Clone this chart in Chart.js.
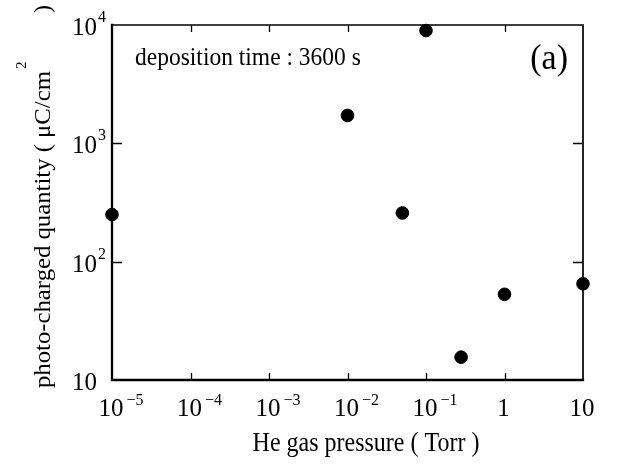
<!DOCTYPE html>
<html>
<head>
<meta charset="utf-8">
<script src="https://cdn.jsdelivr.net/npm/chart.js@4/dist/chart.umd.min.js"></script>
<style>
  html, body { margin: 0; padding: 0; background: #fff; }
  #wrap { width: 618px; height: 466px; }
</style>
</head>
<body>
<div id="wrap"><canvas id="c" width="618" height="466"></canvas></div>
<script>
// He gas pressure (Torr) and photo-charged quantity (µC/cm²)
const pressureTorr = [1e-5, 0.01, 0.05, 0.1, 0.28, 1, 10];
const chargeUCcm2 = [250, 1720, 258, 8980, 15.6, 53, 65];

// decade ticks: [mantissa, exponent]
const xTickValues = [1e-5, 1e-4, 1e-3, 1e-2, 1e-1, 1, 10];
const xTickLabels = [['10', '−5'], ['10', '−4'], ['10', '−3'], ['10', '−2'], ['10', '−1'], ['1', ''], ['10', '']];
const yTickValues = [10, 100, 1000, 10000];
const yTickLabels = [['10', ''], ['10', '2'], ['10', '3'], ['10', '4']];

const xTitle = 'He gas pressure ( Torr )';
const yTitleParts = ['photo-charged quantity ( μC/cm', '2', ')'];
const noteText = 'deposition time : 3600 s';
const panelText = '(a)';

const SERIF = '"Liberation Serif", "DejaVu Serif", serif';

// text drawn with an optional vertical stretch
function stretchedText(ctx, text, x, y, size, align, sy) {
  ctx.save();
  ctx.font = size + 'px ' + SERIF;
  ctx.textAlign = align;
  ctx.translate(x, y);
  ctx.scale(1, sy);
  ctx.fillText(text, 0, 0);
  ctx.restore();
}

const framePlugin = {
  id: 'framePlugin',
  beforeDatasetsDraw(chart) {
    const { ctx, chartArea: a } = chart;
    const xs = chart.scales.x, ys = chart.scales.y;
    ctx.save();
    ctx.strokeStyle = '#000';
    ctx.lineCap = 'square';
    ctx.lineWidth = 2.3;
    ctx.beginPath();
    ctx.moveTo(a.left, a.top); ctx.lineTo(a.left, a.bottom); ctx.lineTo(a.right, a.bottom);
    ctx.stroke();
    ctx.lineWidth = 1.7;
    ctx.beginPath();
    ctx.moveTo(a.left, a.top); ctx.lineTo(a.right, a.top); ctx.lineTo(a.right, a.bottom);
    ctx.stroke();
    ctx.lineWidth = 1.3;
    ctx.lineCap = 'butt';
    // inward ticks on the inner decades
    xTickValues.slice(1, -1).forEach(v => {
      const px = Math.round(xs.getPixelForValue(v)) + 0.5;
      ctx.beginPath();
      ctx.moveTo(px, a.bottom); ctx.lineTo(px, a.bottom - 7);
      ctx.moveTo(px, a.top); ctx.lineTo(px, a.top + 7);
      ctx.stroke();
    });
    yTickValues.slice(1, -1).forEach(v => {
      const py = Math.round(ys.getPixelForValue(v)) + 0.5;
      ctx.beginPath();
      ctx.moveTo(a.left, py); ctx.lineTo(a.left + 10, py);
      ctx.moveTo(a.right, py); ctx.lineTo(a.right - 10, py);
      ctx.stroke();
    });
    ctx.restore();
  },
  afterDraw(chart) {
    const { ctx } = chart;
    const xs = chart.scales.x, ys = chart.scales.y;
    ctx.save();
    ctx.fillStyle = '#000';
    ctx.textBaseline = 'alphabetic';

    // x tick labels
    xTickValues.forEach((v, i) => {
      const [base, exp] = xTickLabels[i];
      const px = xs.getPixelForValue(v);
      ctx.font = '25px ' + SERIF;
      const bw = ctx.measureText(base).width;
      const left = px - bw / 2 - 1;
      stretchedText(ctx, base, left, 416, 25, 'left', 1.03);
      if (exp) stretchedText(ctx, exp, left + bw + 3, 405, 16, 'left', 1.03);
    });

    // y tick labels
    yTickValues.forEach((v, i) => {
      const [base, exp] = yTickLabels[i];
      const py = ys.getPixelForValue(v);
      stretchedText(ctx, base, 97, py + 10, 25, 'right', 1.03);
      if (exp) stretchedText(ctx, exp, 98, py - 3, 16, 'left', 1.03);
    });

    // x axis title
    stretchedText(ctx, xTitle, 366, 451, 24, 'center', 1.1);

    // y axis title, rotated and read bottom to top
    ctx.save();
    ctx.translate(50, 388);
    ctx.rotate(-Math.PI / 2);
    ctx.textAlign = 'left';
    ctx.font = '24px ' + SERIF;
    ctx.save();
    ctx.scale(1.03, 1);
    ctx.fillText(yTitleParts[0], 0, 0);
    const w0 = ctx.measureText(yTitleParts[0]).width * 1.03;
    ctx.restore();
    ctx.font = '15px ' + SERIF;
    ctx.fillText(yTitleParts[1], w0 + 2, -24);
    ctx.font = '24px ' + SERIF;
    ctx.textAlign = 'right';
    ctx.fillText(yTitleParts[2], 383, 0);
    ctx.restore();

    // annotations inside the frame
    stretchedText(ctx, noteText, 135, 65, 23.5, 'left', 1.1);
    stretchedText(ctx, panelText, 568, 69, 34, 'right', 1.03);
    ctx.restore();
  }
};

new Chart(document.getElementById('c'), {
  type: 'scatter',
  data: {
    datasets: [{
      data: pressureTorr.map((p, i) => ({ x: p, y: chargeUCcm2[i] })),
      backgroundColor: '#000',
      borderColor: '#000',
      pointRadius: 6.3,
      pointHoverRadius: 6.3,
      clip: false
    }]
  },
  options: {
    responsive: false,
    animation: false,
    events: [],
    layout: { padding: { left: 112, right: 35, top: 25, bottom: 86 } },
    plugins: { legend: { display: false }, tooltip: { enabled: false } },
    scales: {
      x: { type: 'logarithmic', min: 1e-5, max: 10, display: false },
      y: { type: 'logarithmic', min: 10, max: 10000, display: false }
    }
  },
  plugins: [framePlugin]
});
</script>
</body>
</html>
